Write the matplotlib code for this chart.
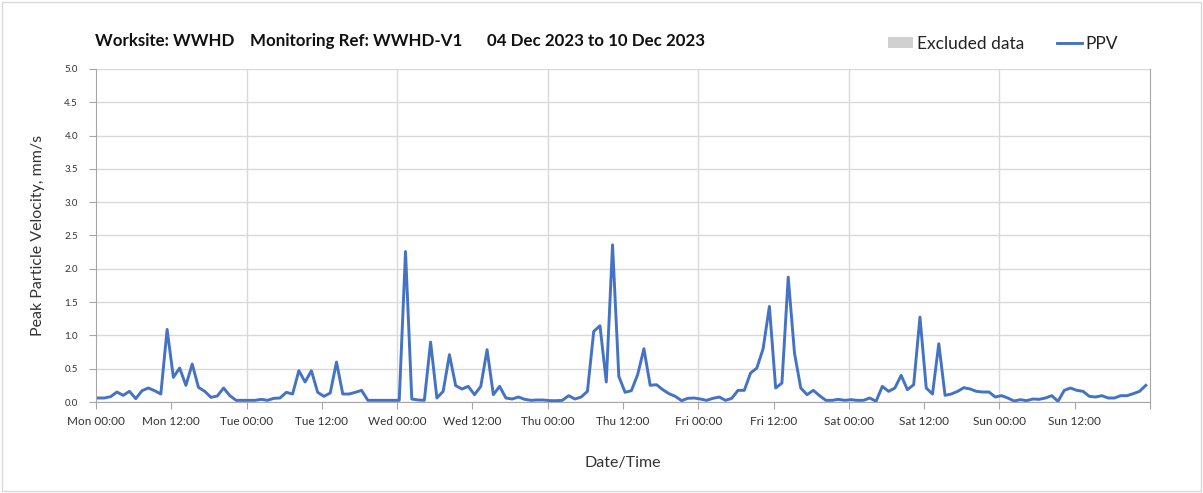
import numpy as np
import matplotlib
matplotlib.use("Agg")
import matplotlib.pyplot as plt
from matplotlib.patches import Patch, Rectangle
from matplotlib.lines import Line2D

plt.rcParams['font.family'] = ['Lato', 'DejaVu Sans']

# hourly samples, Mon 00:20 .. Sun 23:20 (hours since Mon 00:00)
start_offset_h = 20 / 60
ppv = [
    0.06, 0.06, 0.08, 0.15, 0.10, 0.16, 0.05, 0.17, 0.21, 0.17, 0.12, 1.09,
    0.37, 0.51, 0.25, 0.57, 0.22, 0.16, 0.07, 0.09, 0.21, 0.095, 0.025, 0.025,
    0.025, 0.025, 0.04, 0.025, 0.055, 0.06, 0.145, 0.12, 0.47, 0.30, 0.47, 0.145,
    0.085, 0.135, 0.60, 0.12, 0.12, 0.145, 0.175, 0.025, 0.025, 0.025, 0.025, 0.025,
    0.025, 2.26, 0.045, 0.03, 0.025, 0.90, 0.06, 0.16, 0.71, 0.245, 0.195, 0.235,
    0.11, 0.235, 0.785, 0.11, 0.235, 0.06, 0.045, 0.075, 0.04, 0.025, 0.03, 0.03,
    0.02, 0.02, 0.025, 0.095, 0.045, 0.075, 0.16, 1.06, 1.145, 0.30, 2.36, 0.385,
    0.145, 0.17, 0.41, 0.80, 0.25, 0.26, 0.185, 0.125, 0.085, 0.02, 0.055, 0.06,
    0.045, 0.025, 0.055, 0.075, 0.025, 0.055, 0.175, 0.175, 0.435, 0.51, 0.80, 1.435,
    0.21, 0.285, 1.875, 0.735, 0.21, 0.11, 0.175, 0.095, 0.025, 0.025, 0.04, 0.025,
    0.035, 0.025, 0.025, 0.06, 0.01, 0.235, 0.16, 0.21, 0.40, 0.185, 0.26, 1.275,
    0.21, 0.12, 0.875, 0.10, 0.12, 0.16, 0.215, 0.195, 0.16, 0.15, 0.15, 0.075,
    0.095, 0.06, 0.015, 0.035, 0.02, 0.045, 0.04, 0.06, 0.095, 0.01, 0.175, 0.21,
    0.175, 0.16, 0.085, 0.075, 0.095, 0.06, 0.06, 0.095, 0.095, 0.125, 0.16, 0.25,
]
hours = np.arange(len(ppv)) + start_offset_h

days = ['Mon', 'Tue', 'Wed', 'Thu', 'Fri', 'Sat', 'Sun']
tick_labels = [f'{d} {t}' for d in days for t in ('00:00', '12:00')] + ['']
y_ticks = [0.0, 0.5, 1.0, 1.5, 2.0, 2.5, 3.0, 3.5, 4.0, 4.5, 5.0]

title_parts = ['Worksite: WWHD', 'Monitoring Ref: WWHD-V1', '04 Dec 2023 to 10 Dec 2023']

fig = plt.figure(figsize=(12.03, 4.93), dpi=100)
ax = fig.add_axes([96 / 1203, 1 - 402 / 493, (1150 - 96) / 1203, (402 - 69) / 493])

ax.plot(hours, ppv, color='#4472C4', lw=2.1, solid_joinstyle='round')

ax.set_xlim(0, 168)
ax.set_ylim(0, 5)
ax.set_xticks(np.arange(0, 169, 12))
ax.set_xticklabels(tick_labels, fontsize=8.5, color='#333333')
ax.set_yticks(y_ticks)
ax.set_yticklabels([f'{v:.1f}' for v in y_ticks], fontsize=7, color='#333333')

# vertical grid only at midnight
for d in range(1, 7):
    ax.axvline(d * 24, color='#d9d9d9', lw=1, zorder=0)
ax.yaxis.grid(True, color='#d9d9d9', lw=1)
ax.set_axisbelow(True)

for side in ('left', 'bottom', 'right'):
    ax.spines[side].set_color('#a6a6a6')
ax.spines['top'].set_visible(False)
ax.tick_params(axis='both', colors='#a6a6a6', labelcolor='#333333', length=5)
ax.tick_params(axis='x', pad=5)
ax.tick_params(axis='y', pad=8)

ax.set_xlabel('Date/Time', fontsize=11.5, color='#333333', labelpad=21)
ax.set_ylabel('Peak Particle Velocity, mm/s', fontsize=11.5, color='#333333', labelpad=14)

for x_px, part in zip([95, 250, 487], title_parts):
    fig.text(x_px / 1203, 1 - 41 / 493, part, fontsize=12.2, fontweight='bold',
             color='#111111', va='center', ha='left')

handles = [Patch(facecolor='#d0d0d0', edgecolor='none', label='Excluded data'),
           Line2D([], [], color='#4472C4', lw=2.1, label='PPV')]
fig.legend(handles=handles, loc='center', bbox_to_anchor=(1003 / 1203, 1 - 44 / 493),
           ncol=2, frameon=False, fontsize=12.5, handlelength=1.45, handleheight=0.6,
           columnspacing=1.9, handletextpad=0.2, labelcolor='#222222')

fig.patches.append(Rectangle((0.002, 0.004), 0.996, 0.992, transform=fig.transFigure,
                             fill=False, edgecolor='#d9d9d9', lw=1))

fig.savefig('out.png', dpi=100)
